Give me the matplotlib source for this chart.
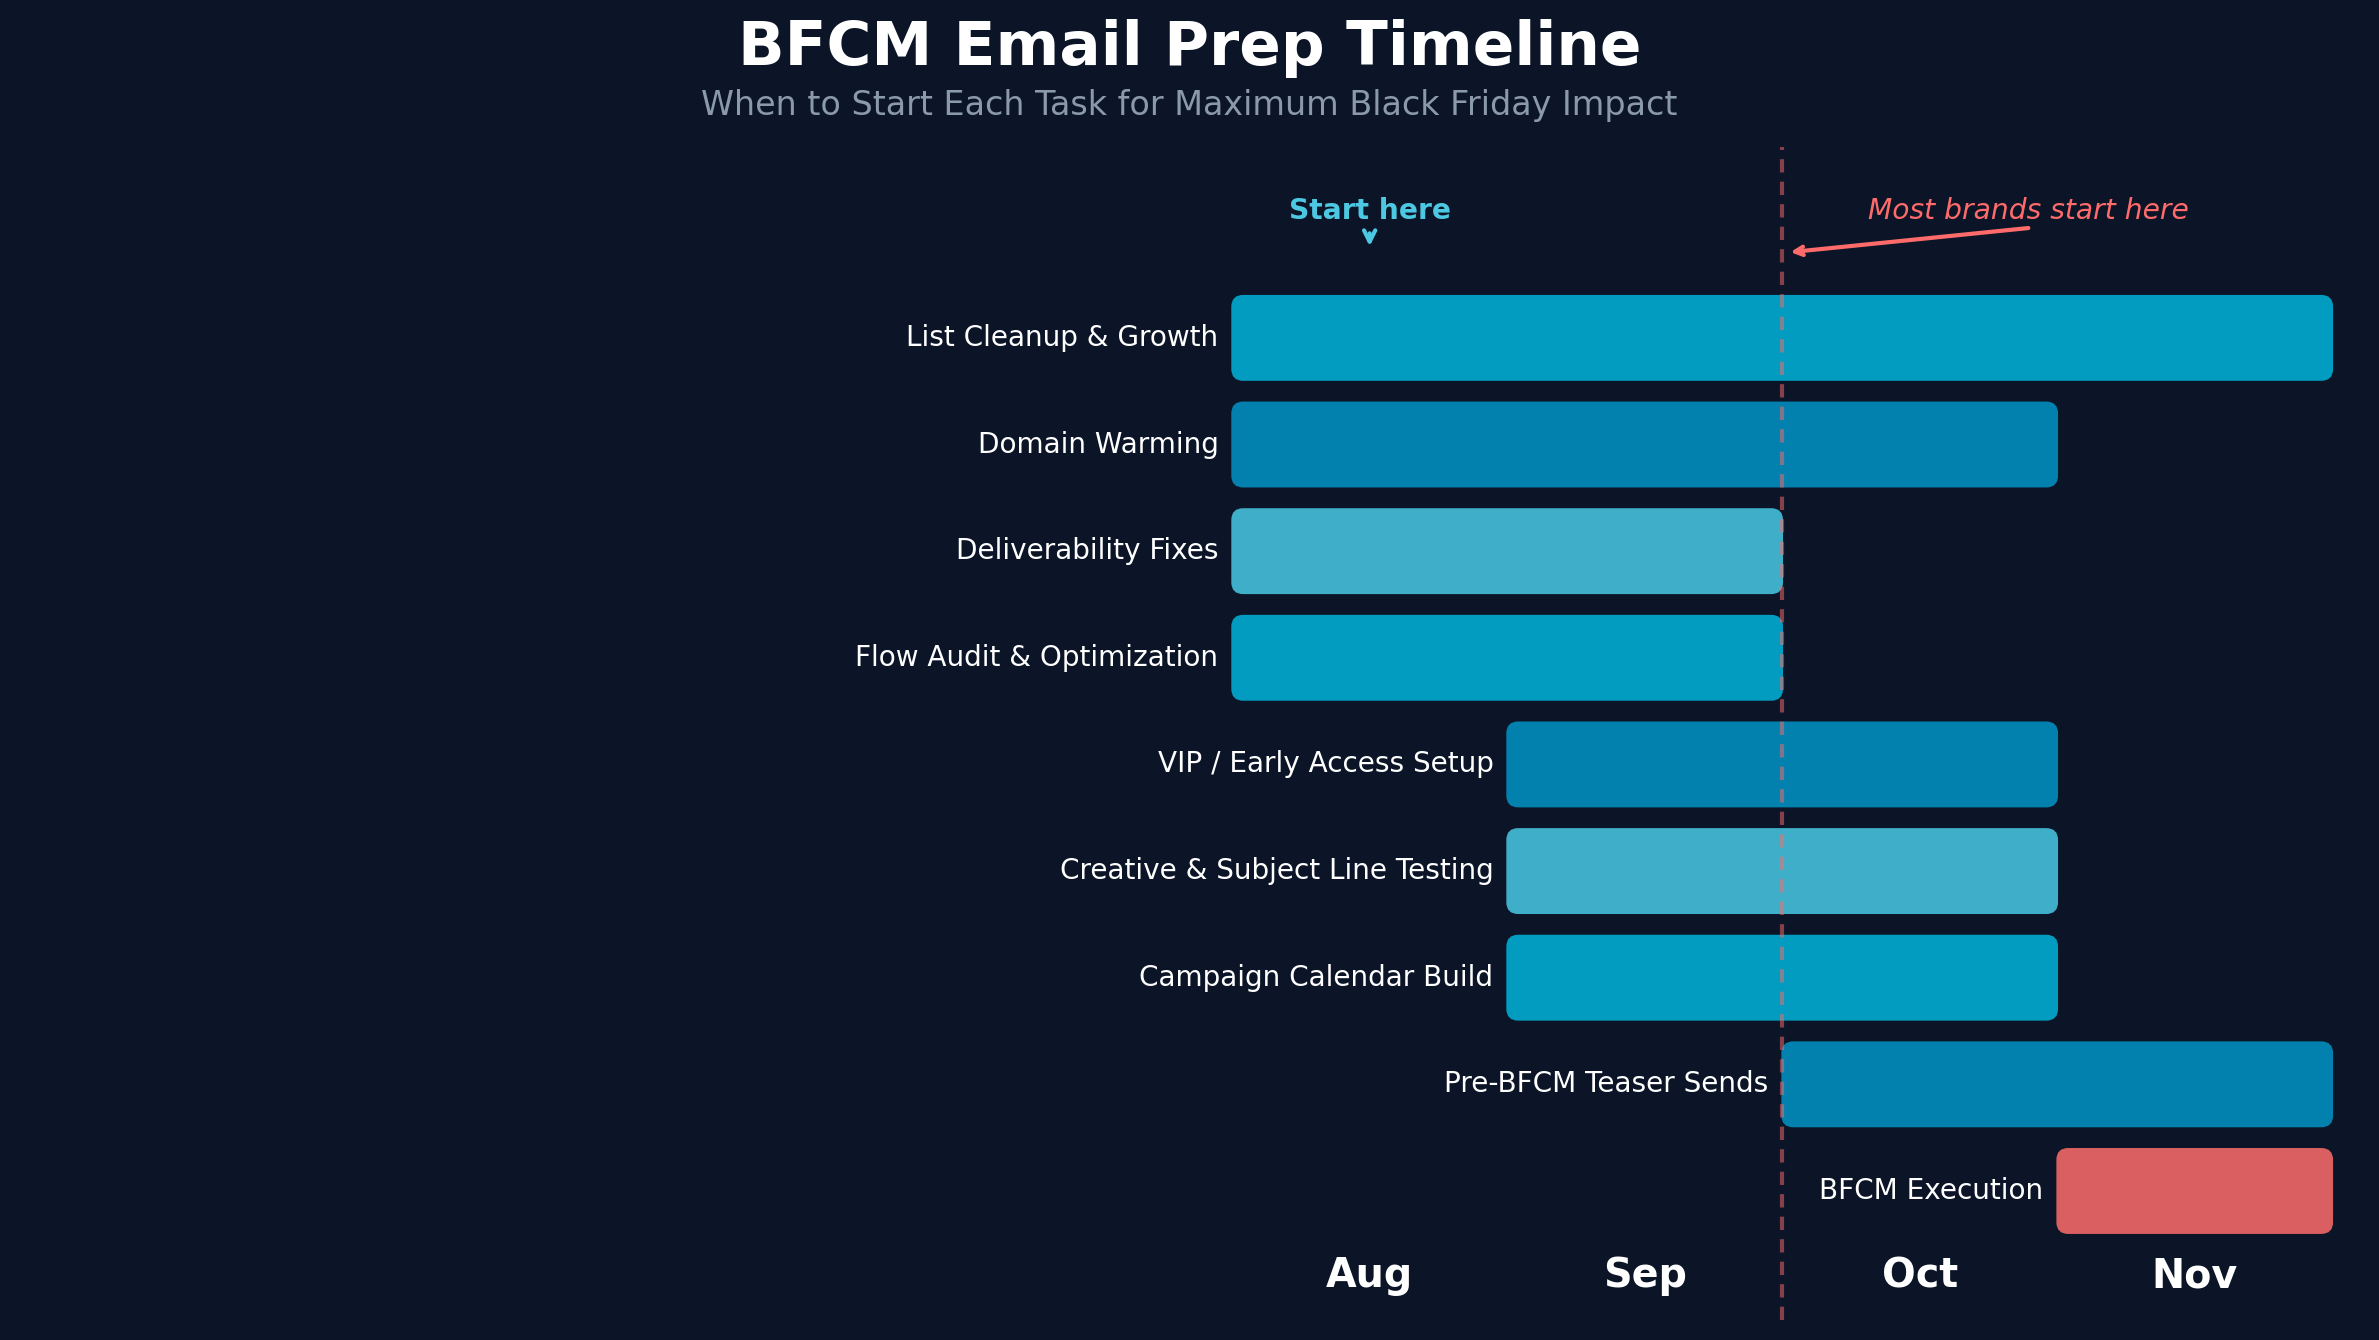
import matplotlib.pyplot as plt
from matplotlib.patches import FancyBboxPatch

# task timeline, in months from the start of August (0 = Aug 1, 4 = end of Nov)
tasks = [
    "List Cleanup & Growth",
    "Domain Warming",
    "Deliverability Fixes",
    "Flow Audit & Optimization",
    "VIP / Early Access Setup",
    "Creative & Subject Line Testing",
    "Campaign Calendar Build",
    "Pre-BFCM Teaser Sends",
    "BFCM Execution",
]
starts = [0, 0, 0, 0, 1, 1, 1, 2, 3]
ends = [4, 3, 2, 2, 3, 3, 3, 4, 4]
months = ["Aug", "Sep", "Oct", "Nov"]

BG = "#0b1527"
TEAL = "#019cbf"
BLUE = "#0381ae"
LIGHT = "#3faec8"
RED = "#da5f60"
bar_colors = [TEAL, BLUE, LIGHT, TEAL, BLUE, LIGHT, TEAL, BLUE, RED]

W, H, DPI = 2379, 1340, 150
fig = plt.figure(figsize=(W / DPI, H / DPI), dpi=DPI, facecolor=BG)
ax = fig.add_axes([0, 20 / H, 1, 1173 / H])
ax.set_facecolor(BG)
ax.set_xlim(-4.48, 4.17)
ax.set_ylim(9.21, -1.79)
ax.axis("off")

bar_h = 0.79
# ratio of pixels per month to pixels per row, to keep the corners round
aspect = 275.0 / 106.6
for i, (task, s, e, c) in enumerate(zip(tasks, starts, ends, bar_colors)):
    box = FancyBboxPatch((s, i - bar_h / 2), e - s, bar_h,
                         boxstyle="round,pad=0,rounding_size=0.04",
                         mutation_aspect=aspect,
                         facecolor=c, edgecolor=c, lw=0.8, zorder=2)
    ax.add_patch(box)
    ax.text(s - 0.05, i, task, ha="right", va="center",
            color="white", fontsize=13.4, zorder=3)

for m, name in enumerate(months):
    ax.text(m + 0.5, 8.8, name, ha="center", va="center",
            color="white", fontsize=19, fontweight="bold")

ax.axvline(2, color="#ff6b6b", alpha=0.5, lw=2,
           linestyle=(0, (3.2, 2.2)), zorder=4)

ax.annotate("Start here", xy=(0.5, -0.82), xytext=(0.5, -1.19),
            ha="center", va="center", color="#4dc8e2", fontsize=13.5,
            fontweight="bold",
            arrowprops=dict(arrowstyle="->", color="#4dc8e2", lw=2))
ax.text(2.895, -1.19, "Most brands start here", ha="center", va="center",
        color="#ff6b6b", fontsize=13.5, style="italic")
ax.annotate("", xy=(2.015, -0.80), xytext=(2.895, -1.03),
            arrowprops=dict(arrowstyle="->", color="#ff6b6b", lw=2,
                            shrinkA=0, shrinkB=2))

fig.text(0.5, 1 - 48 / H, "BFCM Email Prep Timeline", ha="center",
         va="center", color="white", fontsize=29.4, fontweight="bold")
fig.text(0.5, 1 - 105 / H, "When to Start Each Task for Maximum Black Friday Impact",
         ha="center", va="center", color="#8a99ab", fontsize=16)

fig.savefig("out.png", dpi=DPI, facecolor=BG)
